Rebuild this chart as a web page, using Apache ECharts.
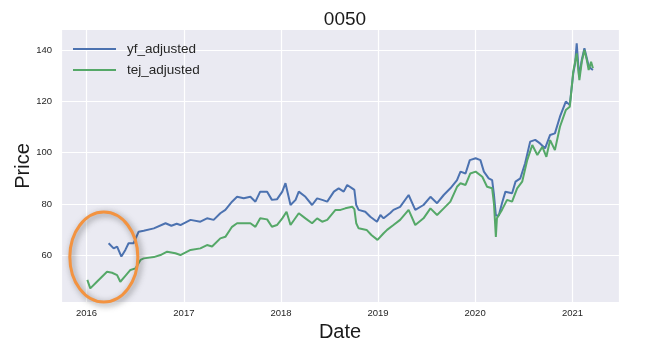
<!DOCTYPE html>
<html>
<head>
<meta charset="utf-8">
<script src="https://cdn.jsdelivr.net/npm/echarts@6/dist/echarts.min.js"></script>
<style>
html,body{margin:0;padding:0;background:#fff;}
#chart{width:665px;height:358px;}
</style>
</head>
<body>
<div id="chart"></div>
<script>
const title = '0050';
const yAxisTitle = 'Price';
const seriesNames = ['yf_adjusted', 'tej_adjusted'];
const yearTicks = ['2016', '2017', '2018', '2019', '2020', '2021'];
const priceTicks = [60, 80, 100, 120, 140];

const yfDates = ['2016-03-24','2016-04-12','2016-04-25','2016-05-11','2016-05-26','2016-06-07','2016-06-26','2016-07-15','2016-08-03','2016-09-10','2016-10-24','2016-11-15','2016-12-05','2016-12-19',
'2017-01-26','2017-03-04','2017-03-29','2017-04-23','2017-05-18','2017-06-06','2017-07-01','2017-07-20','2017-08-14','2017-09-08','2017-09-27','2017-10-15','2017-11-10','2017-11-28','2017-12-17',
'2018-01-06','2018-01-18','2018-02-06','2018-02-25','2018-03-09','2018-04-03','2018-04-28','2018-05-17','2018-06-05','2018-06-24','2018-07-19','2018-08-06','2018-08-25','2018-09-07','2018-09-26','2018-10-04','2018-10-11','2018-10-20','2018-11-14','2018-12-03','2018-12-28',
'2019-01-10','2019-01-22','2019-02-16','2019-02-28','2019-03-25','2019-04-26','2019-05-21','2019-06-21','2019-07-17','2019-08-11','2019-09-05','2019-09-30','2019-10-25','2019-11-07','2019-11-26','2019-12-12',
'2020-01-03','2020-01-21','2020-02-03','2020-02-21','2020-03-05','2020-03-12','2020-03-19','2020-03-30','2020-04-11','2020-04-24','2020-05-19','2020-06-01','2020-06-19','2020-07-07','2020-07-26','2020-08-14','2020-09-01','2020-09-20','2020-10-09','2020-10-27','2020-11-15','2020-12-07','2020-12-22',
'2021-01-04','2021-01-11','2021-01-17','2021-01-26','2021-02-05','2021-02-15','2021-03-02','2021-03-10','2021-03-19'];
const yfValues = [64.7,62.7,63.4,59.5,62.1,64.7,64.7,69.2,69.6,70.5,72.5,71.5,72.3,71.8,
73.8,73.1,74.4,73.8,76.4,77.7,80.9,82.8,82.2,82.8,80.9,84.8,84.8,81.6,81.8,
84.8,88.1,79.6,81.6,84.8,82.8,79.6,82.2,81.6,80.9,84.8,86.1,84.8,87.4,86.1,85.5,79.6,77.7,77.0,75.0,73.1,
75.7,74.4,76.5,77.7,78.9,83.5,77.7,79.6,82.8,80.3,83.5,86.1,89.3,92.6,91.9,97.1,
97.8,97.1,92.6,90.0,89.3,83.5,75.5,75.5,80.3,84.8,84.2,88.7,90.0,95.9,104.3,105.0,103.6,101.7,106.9,107.5,114.0,119.9,118.6,
130.9,134.8,142.6,129.6,136.1,140.7,134.2,132.9,132.2];

const tejDates = ['2016-01-04','2016-01-15','2016-02-09','2016-03-18','2016-04-06','2016-04-25','2016-05-07','2016-05-26','2016-06-14','2016-07-03','2016-07-22','2016-08-03','2016-09-10','2016-10-05','2016-10-30','2016-11-30','2016-12-19',
'2017-01-26','2017-03-04','2017-03-29','2017-04-17','2017-05-18','2017-06-06','2017-07-01','2017-07-20','2017-08-14','2017-09-08','2017-09-27','2017-10-15','2017-11-10','2017-11-28','2017-12-17',
'2018-01-06','2018-01-22','2018-02-06','2018-03-09','2018-04-03','2018-04-28','2018-05-17','2018-06-05','2018-06-24','2018-07-25','2018-08-13','2018-08-31','2018-09-26','2018-10-04','2018-10-11','2018-10-20','2018-11-19','2018-12-07','2018-12-30',
'2019-01-22','2019-02-04','2019-02-28','2019-03-25','2019-04-26','2019-05-21','2019-06-21','2019-07-17','2019-08-11','2019-09-05','2019-09-30','2019-10-25','2019-11-07','2019-11-26','2019-12-14',
'2020-01-03','2020-01-28','2020-02-15','2020-03-05','2020-03-12','2020-03-19','2020-03-23','2020-04-11','2020-04-30','2020-05-19','2020-06-07','2020-06-26','2020-07-15','2020-08-03','2020-08-22','2020-09-10','2020-09-25','2020-10-09','2020-10-27','2020-11-15','2020-12-07','2020-12-22',
'2021-01-04','2021-01-17','2021-01-27','2021-02-05','2021-02-15','2021-02-24','2021-03-03','2021-03-12','2021-03-19'];
const tejValues = [50.4,47.1,49.7,53.6,53.2,52.3,49.7,52.0,54.3,54.9,58.2,58.8,59.3,60.1,61.4,60.8,60.1,
62.1,62.7,64.0,63.4,66.6,67.2,71.1,72.5,72.5,72.5,71.1,74.4,74.0,71.1,71.8,
74.4,77.0,71.8,76.4,74.4,72.5,74.4,73.1,73.8,77.7,77.7,78.3,78.9,78.0,72.5,70.5,69.9,67.9,66.0,
68.6,69.9,71.8,73.8,77.7,71.8,74.4,78.3,75.7,78.3,80.9,86.7,88.1,87.4,91.9,
92.6,90.6,86.7,86.1,80.0,67.2,74.4,77.7,81.6,80.9,86.1,88.7,97.1,103.0,99.1,102.3,98.4,104.9,101.0,110.1,116.6,117.9,
131.6,138.7,128.3,135.4,140.0,136.1,132.2,135.4,132.9];

// annotation ellipse centre (data coords)
const ellipseCenter = ['2016-03-06', 59.3];

const FONT = '"Liberation Sans", Arial, sans-serif';
const chart = echarts.init(document.getElementById('chart'), null, {renderer: 'canvas'});
const yearMs = 365.25 * 24 * 3600 * 1000;

const option = {
  animation: false,
  backgroundColor: '#ffffff',
  title: {
    text: title,
    left: 340, top: 5, textAlign: 'center',
    textStyle: {fontFamily: FONT, fontSize: 19, fontWeight: 'normal', color: '#1a1a1a'}
  },
  grid: {left: 61, right: 46, top: 30, bottom: 56, show: true, backgroundColor: '#eaeaf2', borderWidth: 0,
         containLabel: false, outerBoundsMode: 'none'},
  legend: {
    data: seriesNames,
    left: 73, top: 41, orient: 'vertical', padding: 0,
    icon: 'rect', itemWidth: 43, itemHeight: 2, itemGap: 5,
    textStyle: {fontFamily: FONT, fontSize: 13.5, color: '#262626', lineHeight: 16, padding: [0, 0, 0, 6]}
  },
  xAxis: {
    type: 'time',
    min: '2015-09-27', max: '2021-06-25',
    minInterval: yearMs * 0.99, maxInterval: yearMs * 1.01,
    name: 'Date', nameLocation: 'middle', nameGap: 12,
    nameTextStyle: {fontFamily: FONT, fontSize: 20, color: '#1a1a1a'},
    axisLine: {show: false}, axisTick: {show: false},
    axisLabel: {
      fontFamily: FONT, fontSize: 9.5, color: '#262626', margin: 6,
      showMinLabel: false, showMaxLabel: false,
      formatter: function (v) {
        const y = String(new Date(v).getFullYear());
        return yearTicks.indexOf(y) >= 0 ? y : '';
      }
    },
    splitLine: {show: true, lineStyle: {color: '#ffffff', width: 1.2}}
  },
  yAxis: {
    type: 'value', min: 41.8, max: 147.8,
    axisLine: {show: false},
    axisTick: {show: false, customValues: priceTicks},
    axisLabel: {fontFamily: FONT, fontSize: 9.5, color: '#262626', margin: 9, customValues: priceTicks},
    splitLine: {show: true, lineStyle: {color: '#ffffff', width: 1.2}}
  },
  series: [
    {name: seriesNames[0], type: 'line', showSymbol: false, symbol: 'none',
     data: yfDates.map((d, i) => [d, yfValues[i]]),
     lineStyle: {color: '#4c72b0', width: 2}, itemStyle: {color: '#4c72b0'}},
    {name: seriesNames[1], type: 'line', showSymbol: false, symbol: 'none',
     data: tejDates.map((d, i) => [d, tejValues[i]]),
     lineStyle: {color: '#55a868', width: 2}, itemStyle: {color: '#55a868'}}
  ]
};
chart.setOption(option);

const c = chart.convertToPixel({gridIndex: 0}, ellipseCenter);
chart.setOption({
  graphic: [{
    type: 'ellipse',
    shape: {cx: c[0], cy: c[1], rx: 34, ry: 45},
    style: {fill: 'none', stroke: '#f39340', lineWidth: 3,
            shadowBlur: 6, shadowColor: 'rgba(60,60,60,0.6)', shadowOffsetX: 2, shadowOffsetY: 2},
    z: 100
  }, {
    type: 'text',
    x: 23, y: 166, rotation: Math.PI / 2,
    style: {text: yAxisTitle, font: '20px "Liberation Sans", Arial, sans-serif', fill: '#1a1a1a',
            align: 'center', verticalAlign: 'middle'}
  }]
});
</script>
</body>
</html>
